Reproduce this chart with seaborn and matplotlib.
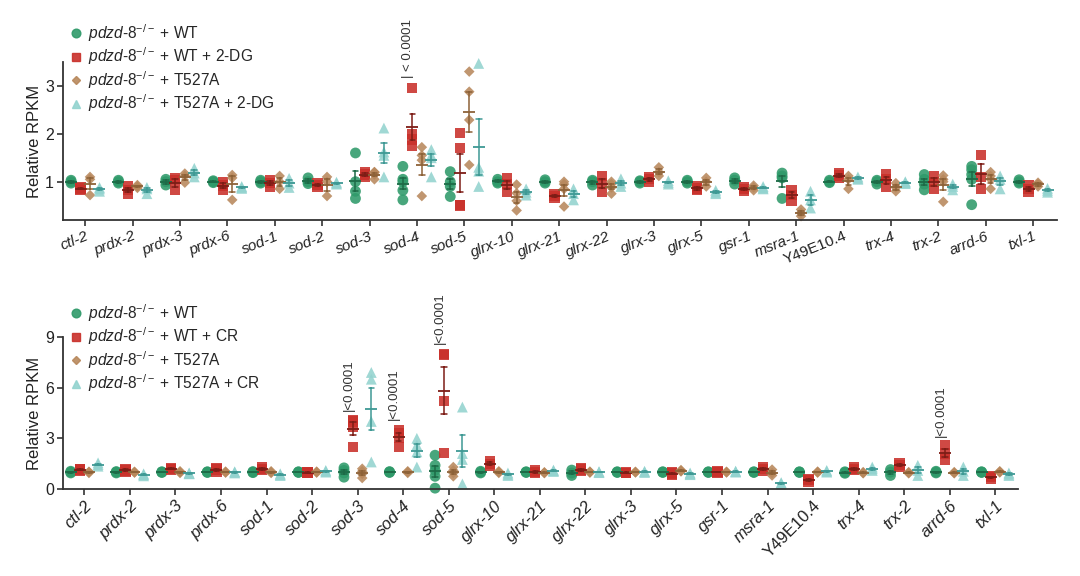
import numpy as np
import pandas as pd
import matplotlib
matplotlib.use("Agg")
import matplotlib.pyplot as plt
from matplotlib.lines import Line2D
import seaborn as sns

genes = ['ctl-2', 'prdx-2', 'prdx-3', 'prdx-6', 'sod-1', 'sod-2', 'sod-3', 'sod-4',
         'sod-5', 'glrx-10', 'glrx-21', 'glrx-22', 'glrx-3', 'glrx-5', 'gsr-1',
         'msra-1', 'Y49E10.4', 'trx-4', 'trx-2', 'arrd-6', 'txl-1']

# ---- top panel (2-DG) ----
top_series = ['WT', 'WT + 2-DG', 'T527A', 'T527A + 2-DG']
top_wt = [[0.97, 1.0, 1.03], [0.97, 1.0, 1.03], [0.93, 1.0, 1.05], [0.98, 1.0, 1.02],
          [0.97, 1.0, 1.03], [0.96, 1.0, 1.08], [0.65, 0.8, 1.0, 1.6],
          [0.62, 0.82, 1.0, 1.05, 1.32], [0.69, 0.9, 1.0, 1.21], [0.97, 1.0, 1.05],
          [0.97, 1.0, 1.04], [0.93, 1.0, 1.03], [0.97, 1.0, 1.02], [0.97, 1.0, 1.03],
          [0.95, 1.03, 1.08], [0.65, 1.08, 1.12, 1.18], [0.98, 1.0, 1.03],
          [0.95, 1.0, 1.03], [0.83, 0.95, 1.05, 1.15], [0.52, 1.05, 1.15, 1.25, 1.32],
          [0.97, 1.0, 1.04]]
top_wt_dg = [[0.83, 0.86, 0.88], [0.75, 0.82, 0.9], [0.82, 1.03, 1.08], [0.82, 0.92, 1.0],
             [0.9, 0.97, 1.03], [0.9, 0.93, 0.97], [1.1, 1.15, 1.2],
             [1.75, 1.88, 2.0, 2.95], [0.5, 0.52, 1.7, 2.01], [0.78, 0.95, 1.08],
             [0.66, 0.7, 0.74], [0.78, 0.97, 1.12], [1.0, 1.05, 1.1], [0.82, 0.86, 0.9],
             [0.8, 0.84, 0.88], [0.6, 0.72, 0.82], [1.08, 1.13, 1.17], [0.9, 1.05, 1.15],
             [0.85, 1.0, 1.12], [0.84, 1.1, 1.56], [0.78, 0.85, 0.93]]
top_t527a = [[0.72, 1.05, 1.1], [0.87, 0.9, 0.93], [0.98, 1.12, 1.17], [0.62, 1.08, 1.14],
             [0.85, 1.0, 1.12], [0.7, 1.0, 1.1], [1.05, 1.15, 1.2, 1.2],
             [0.7, 1.45, 1.55, 1.72], [1.35, 2.29, 2.88, 3.3], [0.4, 0.6, 0.76, 0.94],
             [0.48, 0.85, 0.95, 1.0], [0.75, 0.88, 0.95, 1.0], [1.12, 1.2, 1.3],
             [0.9, 1.0, 1.08], [0.82, 0.88, 0.92], [0.28, 0.35, 0.42], [0.85, 1.05, 1.12],
             [0.8, 0.88, 0.97], [0.58, 1.0, 1.05, 1.13], [0.85, 1.05, 1.12, 1.2],
             [0.9, 0.95, 0.98]]
top_t527a_dg = [[0.8, 0.85, 0.88], [0.75, 0.85, 0.88], [1.1, 1.18, 1.28], [0.86, 0.88, 0.9],
                [0.88, 0.97, 1.07], [0.95, 0.97, 0.99], [1.1, 1.55, 1.62, 2.12],
                [1.1, 1.5, 1.55, 1.67], [0.9, 1.22, 1.3, 3.47], [0.72, 0.78, 0.85],
                [0.62, 0.75, 0.85], [0.9, 0.97, 1.06], [0.95, 0.98, 1.02], [0.75, 0.78, 0.82],
                [0.85, 0.87, 0.9], [0.45, 0.62, 0.8], [1.05, 1.07, 1.1], [0.96, 0.98, 1.0],
                [0.83, 0.9, 0.95], [0.85, 1.05, 1.12], [0.78, 0.82, 0.86]]

# ---- bottom panel (CR) ----
bot_series = ['WT', 'WT + CR', 'T527A', 'T527A + CR']
bot_wt = [[0.95, 1.0, 1.05], [0.95, 1.0, 1.03], [0.98, 1.0, 1.02], [0.98, 1.0, 1.02],
          [0.97, 1.0, 1.03], [0.98, 1.0, 1.02], [0.7, 0.95, 1.1, 1.25], [0.98, 1.0, 1.03],
          [0.05, 0.75, 1.1, 1.4, 2.0], [0.95, 1.0, 1.05], [0.98, 1.0, 1.02],
          [0.8, 0.95, 1.12], [0.98, 1.0, 1.02], [0.98, 1.0, 1.02], [0.98, 1.0, 1.02],
          [0.98, 1.0, 1.02], [0.98, 1.0, 1.02], [0.93, 0.98, 1.02], [0.8, 1.0, 1.15],
          [0.95, 1.0, 1.05], [0.98, 1.0, 1.02]]
bot_wt_cr = [[1.1, 1.15, 1.2], [1.0, 1.1, 1.2], [1.15, 1.2, 1.25], [1.0, 1.15, 1.25],
             [1.12, 1.2, 1.27], [0.95, 0.97, 1.0], [2.5, 3.7, 4.0, 4.1], [2.5, 3.0, 3.3, 3.5],
             [2.14, 5.2, 7.95, 8.0], [1.35, 1.5, 1.65], [0.95, 1.0, 1.1], [1.05, 1.15, 1.25],
             [0.93, 0.96, 1.0], [0.85, 0.92, 0.98], [0.97, 1.0, 1.03], [1.1, 1.2, 1.32],
             [0.45, 0.53, 0.6], [1.12, 1.2, 1.28], [1.3, 1.42, 1.55], [1.75, 2.1, 2.6],
             [0.62, 0.7, 0.76]]
bot_t527a = [[0.95, 1.0, 1.02], [0.97, 1.0, 1.02], [0.95, 1.0, 1.05], [0.97, 1.0, 1.03],
             [0.95, 1.0, 1.05], [0.97, 1.0, 1.03], [0.65, 0.9, 1.05, 1.2], [0.95, 1.0, 1.05],
             [0.75, 0.95, 1.1, 1.3], [0.95, 1.0, 1.05], [0.94, 0.96, 0.99], [0.97, 1.0, 1.03],
             [0.98, 1.0, 1.02], [1.04, 1.08, 1.12], [0.98, 1.0, 1.02], [0.8, 0.95, 1.15],
             [0.97, 1.0, 1.03], [0.93, 0.96, 1.0], [0.93, 0.96, 1.0], [0.93, 0.96, 1.0],
             [0.98, 1.02, 1.05]]
bot_t527a_cr = [[1.35, 1.45, 1.55], [0.78, 0.85, 0.9], [0.9, 0.92, 0.95], [0.95, 1.0, 1.02],
                [0.8, 0.85, 0.9], [1.0, 1.05, 1.1], [1.6, 4.0, 6.5, 6.9], [1.3, 2.2, 2.6, 3.0],
                [0.3, 1.75, 2.1, 4.85], [0.8, 0.87, 0.95], [1.04, 1.08, 1.12],
                [0.97, 1.0, 1.03], [0.98, 1.02, 1.05], [0.85, 0.9, 0.95], [1.0, 1.03, 1.06],
                [0.28, 0.33, 0.38], [1.0, 1.05, 1.1], [1.1, 1.2, 1.3], [0.8, 1.1, 1.4],
                [0.8, 1.05, 1.3], [0.8, 0.88, 0.95]]

# significance labels: (gene, y position)
top_sig = [('sod-4', 3.17)]
bot_sig = [('sod-3', 4.6), ('sod-4', 4.06), ('sod-5', 8.57), ('arrd-6', 3.08)]

colors = ['#2f9a6a', '#c9302a', '#b8885c', '#93d3cf']
dark_colors = ['#1d6b47', '#7d1d16', '#8d6238', '#3e9994']
markers = ['o', 's', 'D', '^']
msizes = [7.8, 7.4, 5.4, 7.8]


def long_df(series_names, series_values):
    rows = []
    for name, vals in zip(series_names, series_values):
        for g, reps in zip(genes, vals):
            for v in reps:
                rows.append((g, name, v))
    return pd.DataFrame(rows, columns=['gene', 'series', 'value'])


sns.set_theme(style='ticks')
plt.rcParams['font.family'] = ['Liberation Sans', 'DejaVu Sans']
plt.rcParams['mathtext.fontset'] = 'custom'
plt.rcParams['mathtext.it'] = 'Liberation Sans:italic'
plt.rcParams['mathtext.rm'] = 'Liberation Sans'
plt.rcParams['mathtext.sf'] = 'Liberation Sans'

W, H = 1080, 576
fig = plt.figure(figsize=(W / 100, H / 100), dpi=100)
ax_top = fig.add_axes([63 / W, 1 - 220 / H, (1057 - 63) / W, (220 - 62) / H])
ax_bot = fig.add_axes([63 / W, 1 - 489 / H, (1018 - 63) / W, (489 - 337) / H])


def draw_panel(ax, series_names, series_values, ylim, yticks, rot, xfs, sig, sigtext):
    df = long_df(series_names, series_values)
    for i, name in enumerate(series_names):
        sub = df[df['series'] == name]
        sns.stripplot(data=sub, x='gene', y='value', hue='series', order=genes,
                      hue_order=series_names, palette=dict(zip(series_names, colors)),
                      dodge=True, jitter=False, marker=markers[i], size=msizes[i],
                      alpha=0.88, linewidth=0, ax=ax, legend=False, zorder=2)
    sns.pointplot(data=df, x='gene', y='value', hue='series', order=genes,
                  hue_order=series_names, palette=dict(zip(series_names, dark_colors)),
                  errorbar='se', markers='_', linestyles='none', dodge=0.6,
                  capsize=0.12, markersize=9, markeredgewidth=1.3,
                  err_kws={'linewidth': 1.1}, ax=ax, legend=False)
    for c in ax.collections:
        c.set_clip_on(False)
    for ln in ax.lines:
        ln.set_zorder(4)
    ax.set_xlim(-0.47, 20.5)
    ax.set_ylim(*ylim)
    ax.set_yticks(yticks)
    ax.set_xlabel('')
    ax.set_ylabel('Relative RPKM', fontsize=12, color='#222222', labelpad=2)
    sns.despine(ax=ax)
    for s in ['left', 'bottom']:
        ax.spines[s].set_linewidth(1.3)
        ax.spines[s].set_color('#333333')
    ax.tick_params(axis='both', direction='out', length=4, width=1.2, color='#333333',
                   labelsize=11.5, labelcolor='#222222', pad=2.5)
    ax.set_xticks(range(len(genes)))
    ax.set_xticklabels(genes, rotation=rot, ha='right', rotation_mode='anchor', fontsize=xfs)
    for lbl in ax.get_xticklabels():
        lbl.set_style('normal' if lbl.get_text() == 'Y49E10.4' else 'italic')
    for g, yv in sig:
        ax.text(genes.index(g) - 0.2, yv, sigtext, rotation=90, ha='center', va='bottom',
                fontsize=9.5, color='#333333')
    handles = [Line2D([], [], linestyle='none', marker=markers[i], color=colors[i],
                      markersize=msizes[i] * 0.8, alpha=0.9) for i in range(4)]
    labels = [r'$\mathit{pdzd}$-$\mathit{8}^{-/-}$ + ' + n for n in series_names]
    return handles, labels


legend_kws = dict(loc='upper left', frameon=False, borderpad=0, handlelength=0.7,
                  handletextpad=0.4, labelspacing=0.12, fontsize=11.2, borderaxespad=0)

h, l = draw_panel(ax_top, top_series,
                  [top_wt, top_wt_dg, top_t527a, top_t527a_dg],
                  (0.2, 3.5), [1, 2, 3], 22, 11, top_sig, '| < 0.0001')
fig.legend(h, l, bbox_to_anchor=(71 / W, 1 - 22 / H), **legend_kws)

h, l = draw_panel(ax_bot, bot_series,
                  [bot_wt, bot_wt_cr, bot_t527a, bot_t527a_cr],
                  (0, 9), [0, 3, 6, 9], 45, 12, bot_sig, '|<0.0001')
fig.legend(h, l, bbox_to_anchor=(71 / W, 1 - 302 / H), **legend_kws)

fig.savefig('out.png', dpi=100, facecolor='white')
